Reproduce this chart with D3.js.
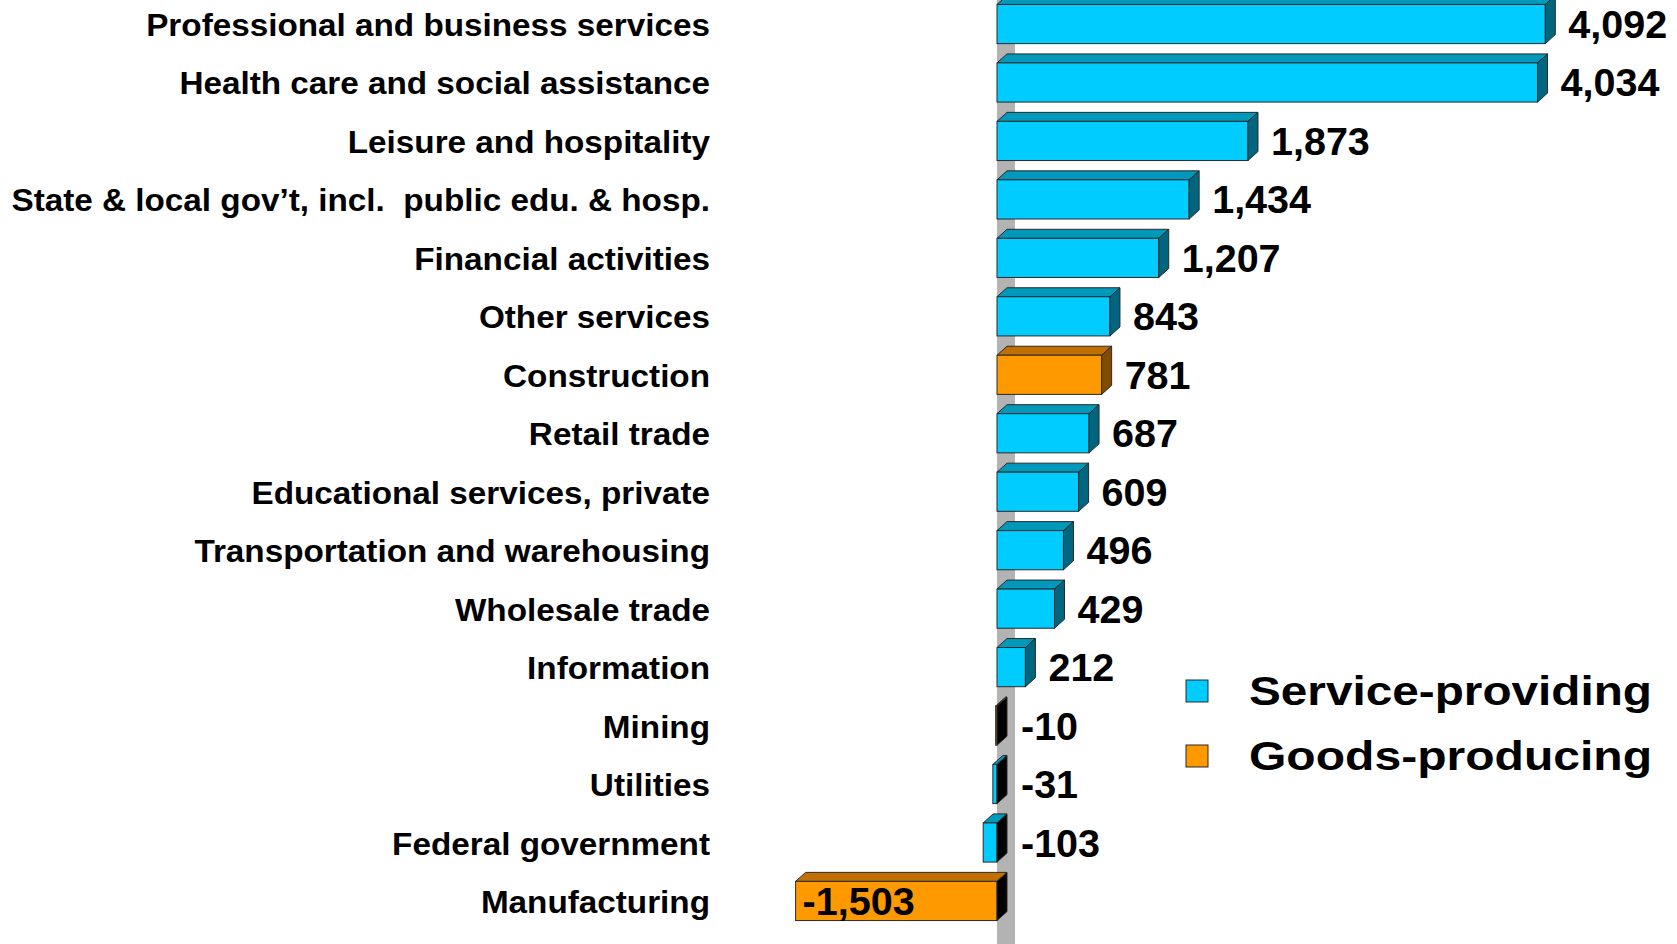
<!DOCTYPE html>
<html>
<head>
<meta charset="utf-8">
<script src="https://cdn.jsdelivr.net/npm/d3@7"></script>
<style>
  html, body { margin: 0; padding: 0; background: #fff; }
  svg { display: block; }
  text { font-family: "Liberation Sans", Arial, sans-serif; font-weight: bold; fill: #000; white-space: pre; }
</style>
</head>
<body>
<svg id="chart" width="1677" height="944"></svg>
<script>
// ---- data ----
const categories = [
  "Professional and business services",
  "Health care and social assistance",
  "Leisure and hospitality",
  "State & local gov\u2019t, incl.  public edu. & hosp.",
  "Financial activities",
  "Other services",
  "Construction",
  "Retail trade",
  "Educational services, private",
  "Transportation and warehousing",
  "Wholesale trade",
  "Information",
  "Mining",
  "Utilities",
  "Federal government",
  "Manufacturing"
];
const values = [4092, 4034, 1873, 1434, 1207, 843, 781, 687, 609, 496, 429, 212, -10, -31, -103, -1503];
const sectors = ["Service-providing", "Service-providing", "Service-providing", "Service-providing",
  "Service-providing", "Service-providing", "Goods-producing", "Service-providing",
  "Service-providing", "Service-providing", "Service-providing", "Service-providing",
  "Goods-producing", "Service-providing", "Service-providing", "Goods-producing"];
const legendLabels = ["Service-providing", "Goods-producing"];

// ---- styles ----
const palette = {
  "Service-providing": { front: "#00CCFF", top: "#0099BB", side: "#006680" },
  "Goods-producing":   { front: "#FF9900", top: "#C06F00", side: "#7F4C00" }
};
const W = 1677, H = 944;
const depthX = 10, depthY = 9;

const svg = d3.select("#chart");

const x = d3.scaleLinear().domain([-1600, 4200]).range([782.6, 1559.8]);
const y = d3.scaleBand().domain(categories).range([-5.2, 930.2]).paddingInner(0.33).paddingOuter(0.165);

const fmt = d3.formatLocale({ decimal: ".", thousands: ",", grouping: [3], currency: ["$", ""], minus: "-" }).format(",");

// zero wall
const x0 = x(0);
svg.append("rect")
  .attr("x", x0).attr("y", 0).attr("width", 18).attr("height", H)
  .attr("fill", "#B3B3B3");

// category labels
svg.append("g").selectAll("text")
  .data(categories)
  .join("text")
  .attr("xml:space", "preserve")
  .attr("transform", d => `translate(710,${y(d) + y.bandwidth() / 2 + 12}) scale(1.04,1)`)
  .attr("text-anchor", "end")
  .attr("font-size", 32)
  .text(d => d);

// bars
const data = categories.map((c, i) => ({ c, v: values[i], s: sectors[i] }));
const bars = svg.append("g").selectAll("g").data(data).join("g");
const stroke = "#2a2a2a";

bars.each(function (d) {
  const g = d3.select(this);
  const xa = x(Math.min(0, d.v)), xb = x(Math.max(0, d.v));
  const yt = y(d.c), h = y.bandwidth();
  const col = palette[d.s];
  // top face
  g.append("path")
    .attr("d", `M${xa},${yt}L${xa + depthX},${yt - depthY}L${xb + depthX},${yt - depthY}L${xb},${yt}Z`)
    .attr("fill", col.top).attr("stroke", stroke).attr("stroke-width", 1);
  // front face
  g.append("rect")
    .attr("x", xa).attr("y", yt).attr("width", Math.max(0.5, xb - xa)).attr("height", h)
    .attr("fill", col.front).attr("stroke", stroke).attr("stroke-width", 1);
  // right face
  g.append("path")
    .attr("d", `M${xb},${yt}L${xb + depthX},${yt - depthY}L${xb + depthX},${yt + h - depthY}L${xb},${yt + h}Z`)
    .attr("fill", d.v < 0 ? "#000" : col.side).attr("stroke", stroke).attr("stroke-width", 1);
});

// value labels
svg.append("g").selectAll("text")
  .data(data)
  .join("text")
  .attr("transform", d => {
    const cy = y(d.c) + y.bandwidth() / 2 + 14;
    let lx;
    if (d.v >= 0) lx = x(d.v) + depthX + 13;
    else if (x(0) - x(d.v) > 120) lx = x(d.v) + 7;
    else lx = x(0) + 24;
    return `translate(${lx},${cy}) scale(1.04,1)`;
  })
  .attr("font-size", 38)
  .text(d => fmt(d.v));

// legend
const legend = svg.append("g").selectAll("g").data(legendLabels).join("g")
  .attr("transform", (d, i) => `translate(1186,${680 + i * 65})`);
legend.append("rect")
  .attr("width", 22).attr("height", 22)
  .attr("fill", d => palette[d].front).attr("stroke", stroke).attr("stroke-width", 1);
legend.append("text")
  .attr("x", 63).attr("y", 25)
  .attr("font-size", 40)
  .attr("textLength", 403).attr("lengthAdjust", "spacingAndGlyphs")
  .text(d => d);
</script>
</body>
</html>
